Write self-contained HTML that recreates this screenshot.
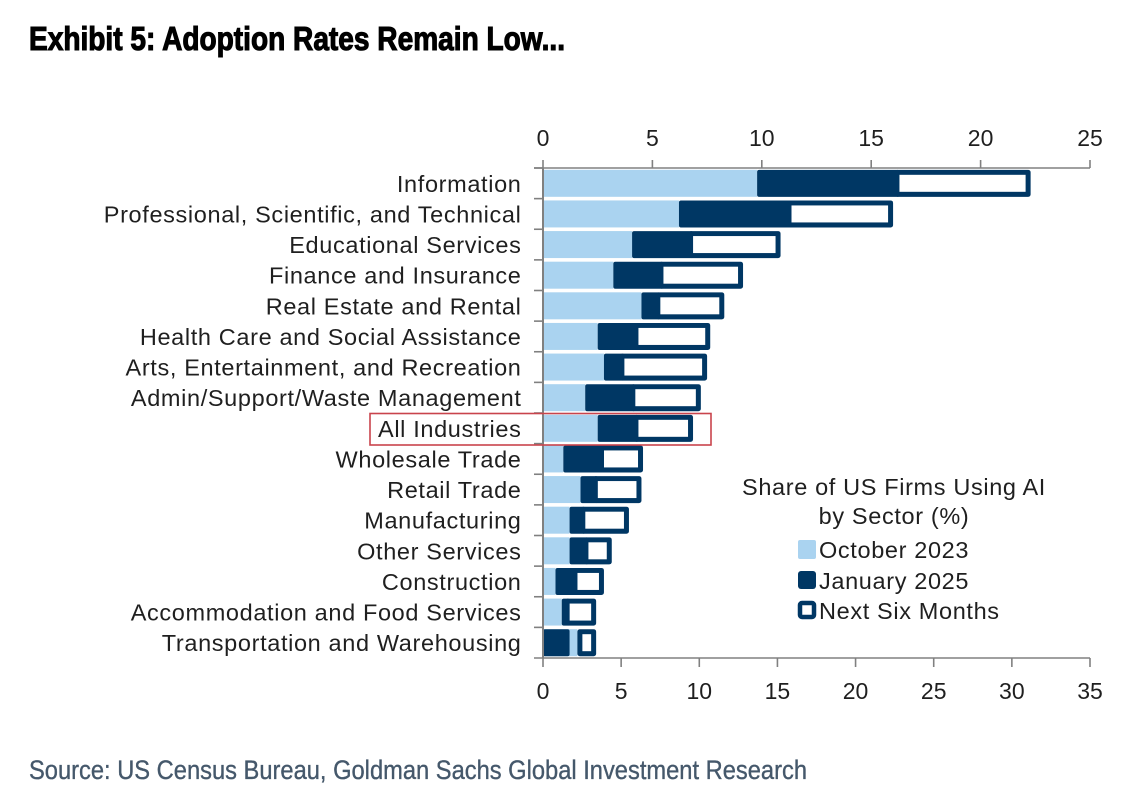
<!DOCTYPE html>
<html lang="en">
<head>
<meta charset="utf-8">
<title>Exhibit 5: Adoption Rates Remain Low...</title>
<style>
html,body{margin:0;padding:0;background:#fff;width:1142px;height:796px;overflow:hidden}
svg{display:block}
text{font-family:"Liberation Sans",sans-serif}
.lbl{font-size:23.5px;fill:#1f1f1f;letter-spacing:.64px}
.tick{font-size:23px;fill:#1f1f1f}
.soft{filter:blur(.35px)}
</style>
</head>
<body>
<svg id="chart" xmlns="http://www.w3.org/2000/svg" width="1142" height="796" viewBox="0 0 1142 796">
  <text x="29" y="50" font-size="33" font-weight="700" fill="#000" stroke="#000" stroke-width="1.1" textLength="536" lengthAdjust="spacingAndGlyphs">Exhibit 5: Adoption Rates Remain Low...</text>
  <text x="29" y="779" font-size="27" fill="#45586b" stroke="#45586b" stroke-width=".35" textLength="778" lengthAdjust="spacingAndGlyphs">Source: US Census Bureau, Goldman Sachs Global Investment Research</text>
  <g id="bars" class="soft"></g>
  <g id="axes" class="soft"></g>
  <g id="labels" class="soft"></g>
  <rect x="370" y="413.5" width="341" height="31.5" fill="none" stroke="#c9444c" stroke-width="1.6"/>
  <g class="soft">
    <text x="894" y="495" text-anchor="middle" class="lbl">Share of US Firms Using AI</text>
    <text x="894" y="524" text-anchor="middle" class="lbl">by Sector (%)</text>
    <rect x="798" y="540" width="18" height="19" rx="2" fill="#aad3f0"/>
    <text x="819" y="558" class="lbl">October 2023</text>
    <rect x="798" y="571" width="18" height="18" rx="3" fill="#003764"/>
    <text x="819" y="589" class="lbl">January 2025</text>
    <rect x="800" y="603" width="14" height="14" rx="2" fill="#fff" stroke="#003764" stroke-width="4.5"/>
    <text x="819" y="619" class="lbl">Next Six Months</text>
  </g>
</svg>
<script>
const categories = ["Information","Professional, Scientific, and Technical","Educational Services","Finance and Insurance","Real Estate and Rental","Health Care and Social Assistance","Arts, Entertainment, and Recreation","Admin/Support/Waste Management","All Industries","Wholesale Trade","Retail Trade","Manufacturing","Other Services","Construction","Accommodation and Food Services","Transportation and Warehousing"];
const october2023 = [13.7,8.7,5.7,4.5,6.3,3.5,3.9,2.7,3.5,1.3,2.4,1.7,1.7,0.8,1.2,2.2];
const january2025 = [22.8,15.9,9.6,7.7,7.5,6.1,5.2,5.9,6.1,3.9,3.5,2.7,2.9,2.2,1.7,1.7];
const nextSixMonths = [31.2,22.4,15.2,12.8,11.6,10.7,10.5,10.1,9.6,6.4,6.3,5.5,4.4,3.9,3.4,3.4];
const bottomTicks = [0,5,10,15,20,25,30,35];
const topTicks = [0,5,10,15,20,25];

const NS = "http://www.w3.org/2000/svg";
const X0 = 543, X1 = 1090, YTOP = 168, YBOT = 658;
const xBottom = v => X0 + v * (X1 - X0) / 35;
const xTop = v => X0 + v * (X1 - X0) / 25;
const band = (YBOT - YTOP) / categories.length;
const yRow = i => YTOP + band * i;
const BAR_H = 27, STROKE = 5;
const DARK = "#003764", LIGHT = "#aad3f0", AXIS = "#808080";

function mk(tag, attrs, parent) {
  const el = document.createElementNS(NS, tag);
  for (const k in attrs) el.setAttribute(k, attrs[k]);
  parent.appendChild(el);
  return el;
}
function slug(s) {
  return s.toLowerCase().replace(/[^a-z0-9]+/g, "-");
}

const barsG = document.getElementById("bars");
const axesG = document.getElementById("axes");
const labelsG = document.getElementById("labels");

categories.forEach(function (cat, i) {
  const top = yRow(i) + (band - BAR_H) / 2;
  const oct = october2023[i], jan = january2025[i], nxt = nextSixMonths[i];
  const s = slug(cat);
  const leads = jan > oct;

  const light = mk("rect", {x: xBottom(0), y: top, width: xBottom(oct) - xBottom(0), height: BAR_H, fill: LIGHT}, barsG);
  
  

  const boxStart = Math.max(oct, jan);
  const outerX = leads ? xBottom(boxStart) - 4 : xBottom(boxStart);
  const box = mk("rect", {x: outerX, y: top, width: xBottom(nxt) - outerX, height: BAR_H, rx: 2.5, fill: DARK}, barsG);
  
  

  const innerX = leads ? xBottom(boxStart) : xBottom(boxStart) + STROKE;
  const inner = mk("rect", {x: innerX, y: top + STROKE, width: Math.max(1, xBottom(nxt) - STROKE - innerX), height: BAR_H - 2 * STROKE, fill: "#fff"}, barsG);
  
  

  const darkStart = leads ? oct : 0;
  const darkEnd = leads ? jan : jan;
  const dark = mk("rect", {x: xBottom(darkStart), y: top, width: xBottom(darkEnd) - xBottom(darkStart), height: BAR_H, rx: 2, fill: DARK}, barsG);
  
  

  const t = mk("text", {x: 521.5, y: yRow(i) + band / 2 + 8.5, "text-anchor": "end", class: "lbl"}, labelsG);
  t.textContent = cat;
  
  

  const tick = mk("line", {x1: 534, x2: X0, y1: yRow(i), y2: yRow(i), stroke: AXIS, "stroke-width": 1.6}, axesG);
  
  
});

const yAxis = mk("line", {x1: X0, x2: X0, y1: YTOP, y2: YBOT, stroke: AXIS, "stroke-width": 2}, axesG);



const topAxis = mk("line", {x1: 534, x2: X1, y1: YTOP, y2: YTOP, stroke: AXIS, "stroke-width": 1.6}, axesG);



const bottomAxis = mk("line", {x1: 534, x2: X1, y1: YBOT, y2: YBOT, stroke: AXIS, "stroke-width": 1.6}, axesG);



topTicks.forEach(function (v) {
  const l = mk("line", {x1: xTop(v), x2: xTop(v), y1: YTOP - 8, y2: YTOP, stroke: AXIS, "stroke-width": 1.6}, axesG);
  
  
  const t = mk("text", {x: xTop(v), y: 146, "text-anchor": "middle", class: "tick"}, axesG);
  t.textContent = v;
  
  
});

bottomTicks.forEach(function (v) {
  const l = mk("line", {x1: xBottom(v), x2: xBottom(v), y1: YBOT, y2: YBOT + 9, stroke: AXIS, "stroke-width": 1.6}, axesG);
  
  
  const t = mk("text", {x: xBottom(v), y: 699, "text-anchor": "middle", class: "tick"}, axesG);
  t.textContent = v;
  
  
});
</script>
</body>
</html>
